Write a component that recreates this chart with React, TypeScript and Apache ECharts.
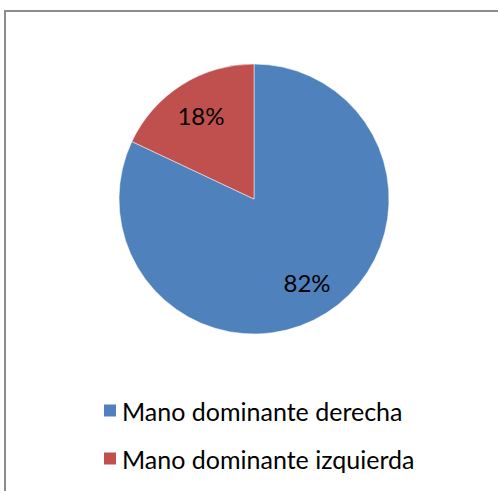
import React, { useEffect, useRef } from "react";
import * as echarts from "echarts";

const categories = ["Mano dominante derecha", "Mano dominante izquierda"];
const values = [82, 18];
const colors = ["#4F81BD", "#C0504D"];

export default function App() {
  const ref = useRef<HTMLDivElement>(null);
  useEffect(() => {
    if (!ref.current) return;
    const chart = echarts.init(ref.current, undefined, { renderer: "svg" });
    const data = categories.map((name, i) => ({
      name,
      value: values[i],
      itemStyle: { color: colors[i] },
    }));
    chart.setOption({
      animation: false,
      backgroundColor: "#ffffff",
      graphic: [
        {
          type: "rect",
          shape: { x: 5, y: 11, width: 700, height: 700 },
          style: { fill: "none", stroke: "#8c8c8c", lineWidth: 2 },
          silent: true,
        },
      ],
      legend: {
        orient: "vertical",
        left: 97,
        top: 393,
        itemWidth: 14,
        itemHeight: 14,
        itemGap: 23,
        icon: "rect",
        data: categories,
        textStyle: {
          fontFamily: "Lato",
          fontSize: 25,
          color: "#000",
          lineHeight: 25,
        },
      },
      series: [
        {
          type: "pie",
          center: [254, 199],
          radius: 135,
          startAngle: 90,
          clockwise: true,
          data,
          label: { show: false },
          labelLine: { show: false },
          itemStyle: { borderColor: "#ffffff", borderWidth: 0.5 },
          emphasis: { disabled: true },
        },
        {
          type: "pie",
          center: [254, 199],
          radius: [57, 135],
          startAngle: 90,
          clockwise: true,
          silent: true,
          data: data.map((d) => ({ ...d, itemStyle: { color: "rgba(0,0,0,0)" } })),
          label: {
            show: true,
            position: "inside",
            formatter: "{d}%",
            fontFamily: "Lato",
            fontSize: 24,
            color: "#000",
          },
          labelLine: { show: false },
          emphasis: { disabled: true },
        },
      ],
    });
    return () => chart.dispose();
  }, []);
  return (
    <div
      ref={ref}
      style={{ position: "fixed", left: 0, top: 0, width: 498, height: 491 }}
    />
  );
}
